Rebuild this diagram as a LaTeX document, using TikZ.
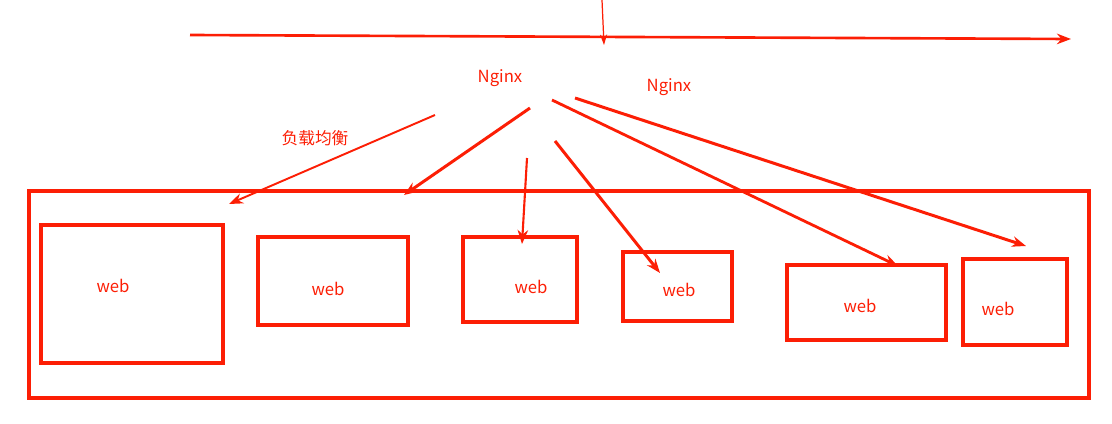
\documentclass[tikz,border=0pt]{standalone}
\usepackage{fontspec}
\setmainfont{Noto Sans CJK SC}
\usetikzlibrary{arrows.meta}
\definecolor{inkred}{RGB}{252, 30, 5}

\begin{document}
\begin{tikzpicture}[
	x=0.02cm, y=-0.02cm,
	>=Stealth,
	% Styles for boxes, labels and arrows
	serverbox/.style={draw=inkred, line width=2pt},
	framebox/.style={draw=inkred, line width=1.8pt},
	redlabel/.style={text=inkred, font=\fontsize{9.5pt}{11pt}\selectfont, inner sep=0pt},
	flow/.style={draw=inkred, line width=1.4pt, -{Stealth[length=8pt, width=6pt]}},
	thinflow/.style={draw=inkred, line width=0.7pt, -{Stealth[length=6pt, width=4pt]}}
	]
	
	\useasboundingbox (0,0) rectangle (1112,423);
	
	% ==========================================
	% 1. TOP AXIS
	% ==========================================
	\coordinate (axisL) at (190,35);
	\coordinate (axisR) at (1071,39);
	\coordinate (tickT) at (602,0);
	\coordinate (tickB) at (604,45);
	\draw[flow, line width=1.5pt] (axisL) -- (axisR);
	\draw[thinflow] (tickT) -- (tickB);
	
	% ==========================================
	% 2. LABELS
	% ==========================================
	\node[redlabel] (nginxA) at (500,78) {Nginx};
	\node[redlabel] (nginxB) at (669,87) {Nginx};
	\node[redlabel] (balance) at (315,138) {负载均衡};
	
	% ==========================================
	% 3. WEB SERVERS
	% ==========================================
	\draw[framebox] (29,191) rectangle (1089,398);
	
	\draw[serverbox] (41,225) rectangle (223,363);
	\node[redlabel] (web1) at (113,286) {web};
	
	\draw[serverbox] (258,237) rectangle (408,325);
	\node[redlabel] (web2) at (328,289) {web};
	
	\draw[serverbox] (463,237) rectangle (577,322);
	\node[redlabel] (web3) at (531,287) {web};
	
	\draw[serverbox] (623,252) rectangle (732,321);
	\node[redlabel] (web4) at (679,290) {web};
	
	\draw[serverbox] (787,265) rectangle (946,340);
	\node[redlabel] (web5) at (860,306) {web};
	
	\draw[serverbox] (963,259) rectangle (1067,345);
	\node[redlabel] (web6) at (998,309) {web};
	
	% ==========================================
	% 4. DISTRIBUTION ARROWS
	% ==========================================
	\coordinate (srcA) at (435,115);  \coordinate (dstA) at (229,204);
	\coordinate (srcB) at (530,108);  \coordinate (dstB) at (404,195);
	\coordinate (srcC) at (527,158);  \coordinate (dstC) at (522,244);
	\coordinate (srcD) at (555,141);  \coordinate (dstD) at (660,273);
	\coordinate (srcE) at (552,100);  \coordinate (dstE) at (898,266);
	\coordinate (srcF) at (575,98);   \coordinate (dstF) at (1026,246);
	
	\draw[flow, line width=1.1pt] (srcA) -- (dstA);
	\draw[flow, line width=1.7pt] (srcB) -- (dstB);
	\draw[flow, line width=1.2pt] (srcC) -- (dstC);
	\draw[flow, line width=1.7pt] (srcD) -- (dstD);
	\draw[flow, line width=1.6pt] (srcE) -- (dstE);
	\draw[flow, line width=1.7pt] (srcF) -- (dstF);
	
\end{tikzpicture}
\end{document}
